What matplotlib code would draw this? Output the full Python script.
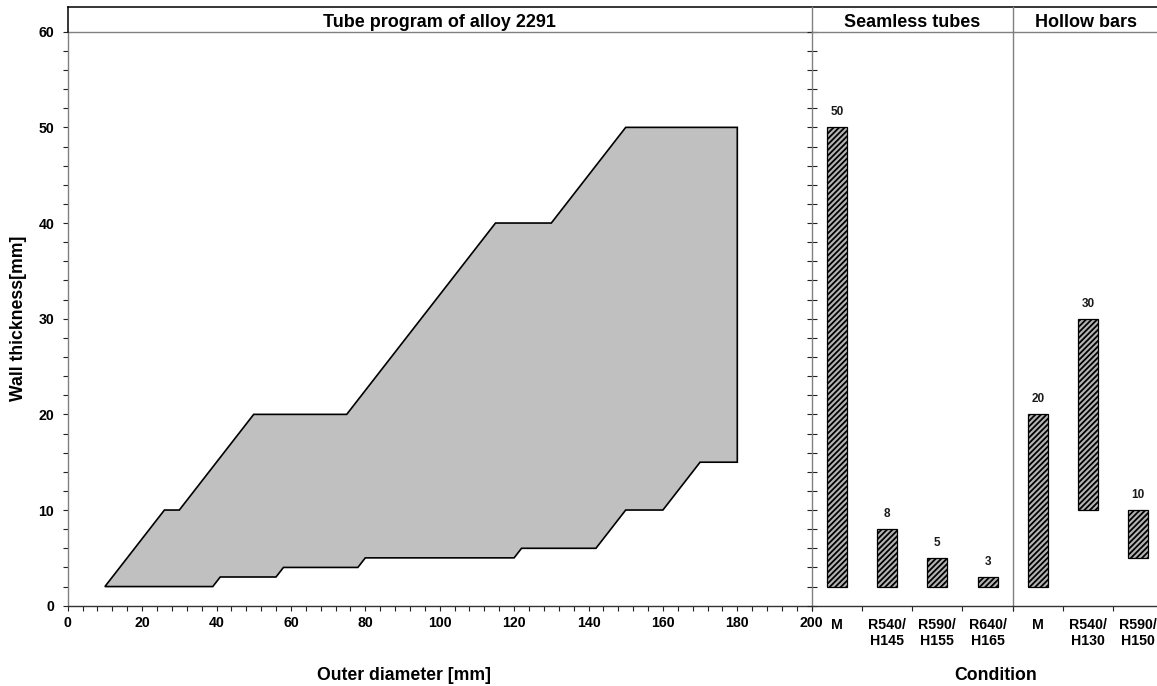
import matplotlib
matplotlib.use('Agg')
import matplotlib.pyplot as plt
from matplotlib.lines import Line2D
from matplotlib.ticker import MultipleLocator, FixedLocator

plt.rcParams['font.family'] = ['Liberation Sans', 'DejaVu Sans']
plt.rcParams['hatch.linewidth'] = 1.3

# ---- data ----
upper_od = [10, 26, 30, 50, 75, 115, 130, 150, 180]
upper_wt = [2, 10, 10, 20, 20, 40, 40, 50, 50]
lower_od = [10, 39, 41, 56, 58, 78, 80, 120, 122, 142, 150, 160, 170, 180]
lower_wt = [2, 2, 3, 3, 4, 4, 5, 5, 6, 6, 10, 10, 15, 15]

seamless_conditions = ['M', 'R540/\nH145', 'R590/\nH155', 'R640/\nH165']
seamless_min = [2, 2, 2, 2]
seamless_max = [50, 8, 5, 3]

hollow_conditions = ['M', 'R540/\nH130', 'R590/\nH150']
hollow_min = [2, 10, 5]
hollow_max = [20, 30, 10]

x_ticks = list(range(0, 201, 20))
y_ticks = list(range(0, 61, 10))

# ---- layout ----
W, H = 1157, 686
fig = plt.figure(figsize=(W / 100, H / 100), dpi=100)


def px_rect(x0, y0, x1, y1):
    return [x0 / W, 1 - y1 / H, (x1 - x0) / W, (y1 - y0) / H]


X0, X1, X2, X3 = 67.7, 811.7, 1012.7, 1163.5
YT, YB = 31.7, 605.7
ax1 = fig.add_axes(px_rect(X0, YT, X1, YB))
ax2 = fig.add_axes(px_rect(X1, YT, X2, YB))
ax3 = fig.add_axes(px_rect(X2, YT, X3, YB))

GRAY = '#808080'
DARK = '#333333'
TICKFS = 10.2
for ax in (ax1, ax2, ax3):
    ax.set_ylim(0, 60)
    ax.patch.set_alpha(0)
    ax.spines['left'].set_color(GRAY)
    ax.spines['top'].set_color(GRAY)
    ax.spines['bottom'].set_color(DARK)
    ax.spines['right'].set_visible(False)
    for s in ax.spines.values():
        s.set_linewidth(1.0)

# ---- left panel ----
poly_x = upper_od + lower_od[::-1]
poly_y = upper_wt + lower_wt[::-1]
ax1.fill(poly_x, poly_y, facecolor='#c0c0c0', edgecolor='black', linewidth=1.2,
         joinstyle='miter')
ax1.set_xlim(0, 200)
ax1.set_xticks(x_ticks, [str(v) for v in x_ticks], fontweight='bold', fontsize=TICKFS)
ax1.set_yticks(y_ticks, [str(v) for v in y_ticks], fontweight='bold', fontsize=TICKFS)
ax1.xaxis.set_minor_locator(MultipleLocator(4))
ax1.yaxis.set_minor_locator(MultipleLocator(2))
ax1.tick_params(axis='both', which='both', direction='out', length=3.6, width=0.8,
                color='#222222')
ax1.tick_params(axis='x', which='major', pad=4)
ax1.tick_params(axis='y', which='major', pad=6)


def bar_panel(ax, cats, vmin, vmax):
    n = len(cats)
    pos = list(range(n))
    heights = [b - a for a, b in zip(vmin, vmax)]
    ax.bar(pos, heights, bottom=vmin, width=0.4, facecolor='#b4b4b4',
           edgecolor='black', hatch='//////', linewidth=0.9)
    for p, top in zip(pos, vmax):
        ax.annotate(str(top), (p, top), xytext=(0, 10.8), textcoords='offset points',
                    ha='center', va='center', fontsize=8.5, fontweight='bold',
                    color='#1a1a1a')
    ax.set_xlim(-0.5, n - 0.5)
    ax.xaxis.set_major_locator(FixedLocator([i - 0.5 for i in range(n + 1)]))
    ax.xaxis.set_major_formatter(plt.NullFormatter())
    ax.xaxis.set_minor_locator(FixedLocator(pos))
    ax.set_xticks(pos, cats, minor=True, fontweight='bold', fontsize=TICKFS,
                  linespacing=1.2, va='top')
    ax.tick_params(axis='x', which='major', direction='out', length=3.8, width=0.8,
                   color='#222222')
    ax.tick_params(axis='x', which='minor', length=0, pad=9)


bar_panel(ax2, seamless_conditions, seamless_min, seamless_max)
bar_panel(ax3, hollow_conditions, hollow_min, hollow_max)

ax2.yaxis.set_major_locator(MultipleLocator(10))
ax2.yaxis.set_minor_locator(MultipleLocator(2))
ax2.tick_params(axis='y', which='both', direction='inout', length=6.5, width=0.8,
                color='#222222', labelleft=False)
ax3.set_yticks([])

# ---- title band ----
ytop = 1 - 7.3 / H
yband = 1 - YT / H
fig.add_artist(Line2D([X0 / W, 1.0], [ytop, ytop], transform=fig.transFigure,
                      color='black', linewidth=1.1))
fig.add_artist(Line2D([X0 / W, X0 / W], [ytop, yband], transform=fig.transFigure,
                      color='black', linewidth=1.1))
for xp in (X1, X2):
    fig.add_artist(Line2D([xp / W, xp / W], [ytop, yband], transform=fig.transFigure,
                          color=GRAY, linewidth=1.0))

ybase = 1 - 26.7 / H
fig.text((X0 + X1) / 2 / W, ybase, 'Tube program of alloy 2291', ha='center',
         va='baseline', fontsize=13, fontweight='bold')
fig.text((X1 + X2) / 2 / W, ybase, 'Seamless tubes', ha='center',
         va='baseline', fontsize=13, fontweight='bold')
fig.text(1086 / W, ybase, 'Hollow bars', ha='center',
         va='baseline', fontsize=13, fontweight='bold')

# ---- axis labels ----
fig.text(404 / W, 1 - 680.5 / H, 'Outer diameter [mm]', ha='center', va='baseline',
         fontsize=12.7, fontweight='bold')
fig.text(996 / W, 1 - 680.5 / H, 'Condition', ha='center', va='baseline',
         fontsize=12.7, fontweight='bold')
fig.text(19 / W, 1 - (YT + YB) / 2 / H, 'Wall thickness[mm]', ha='center',
         va='center', rotation=90, fontsize=12.7, fontweight='bold')

fig.savefig('out.png', dpi=100)
